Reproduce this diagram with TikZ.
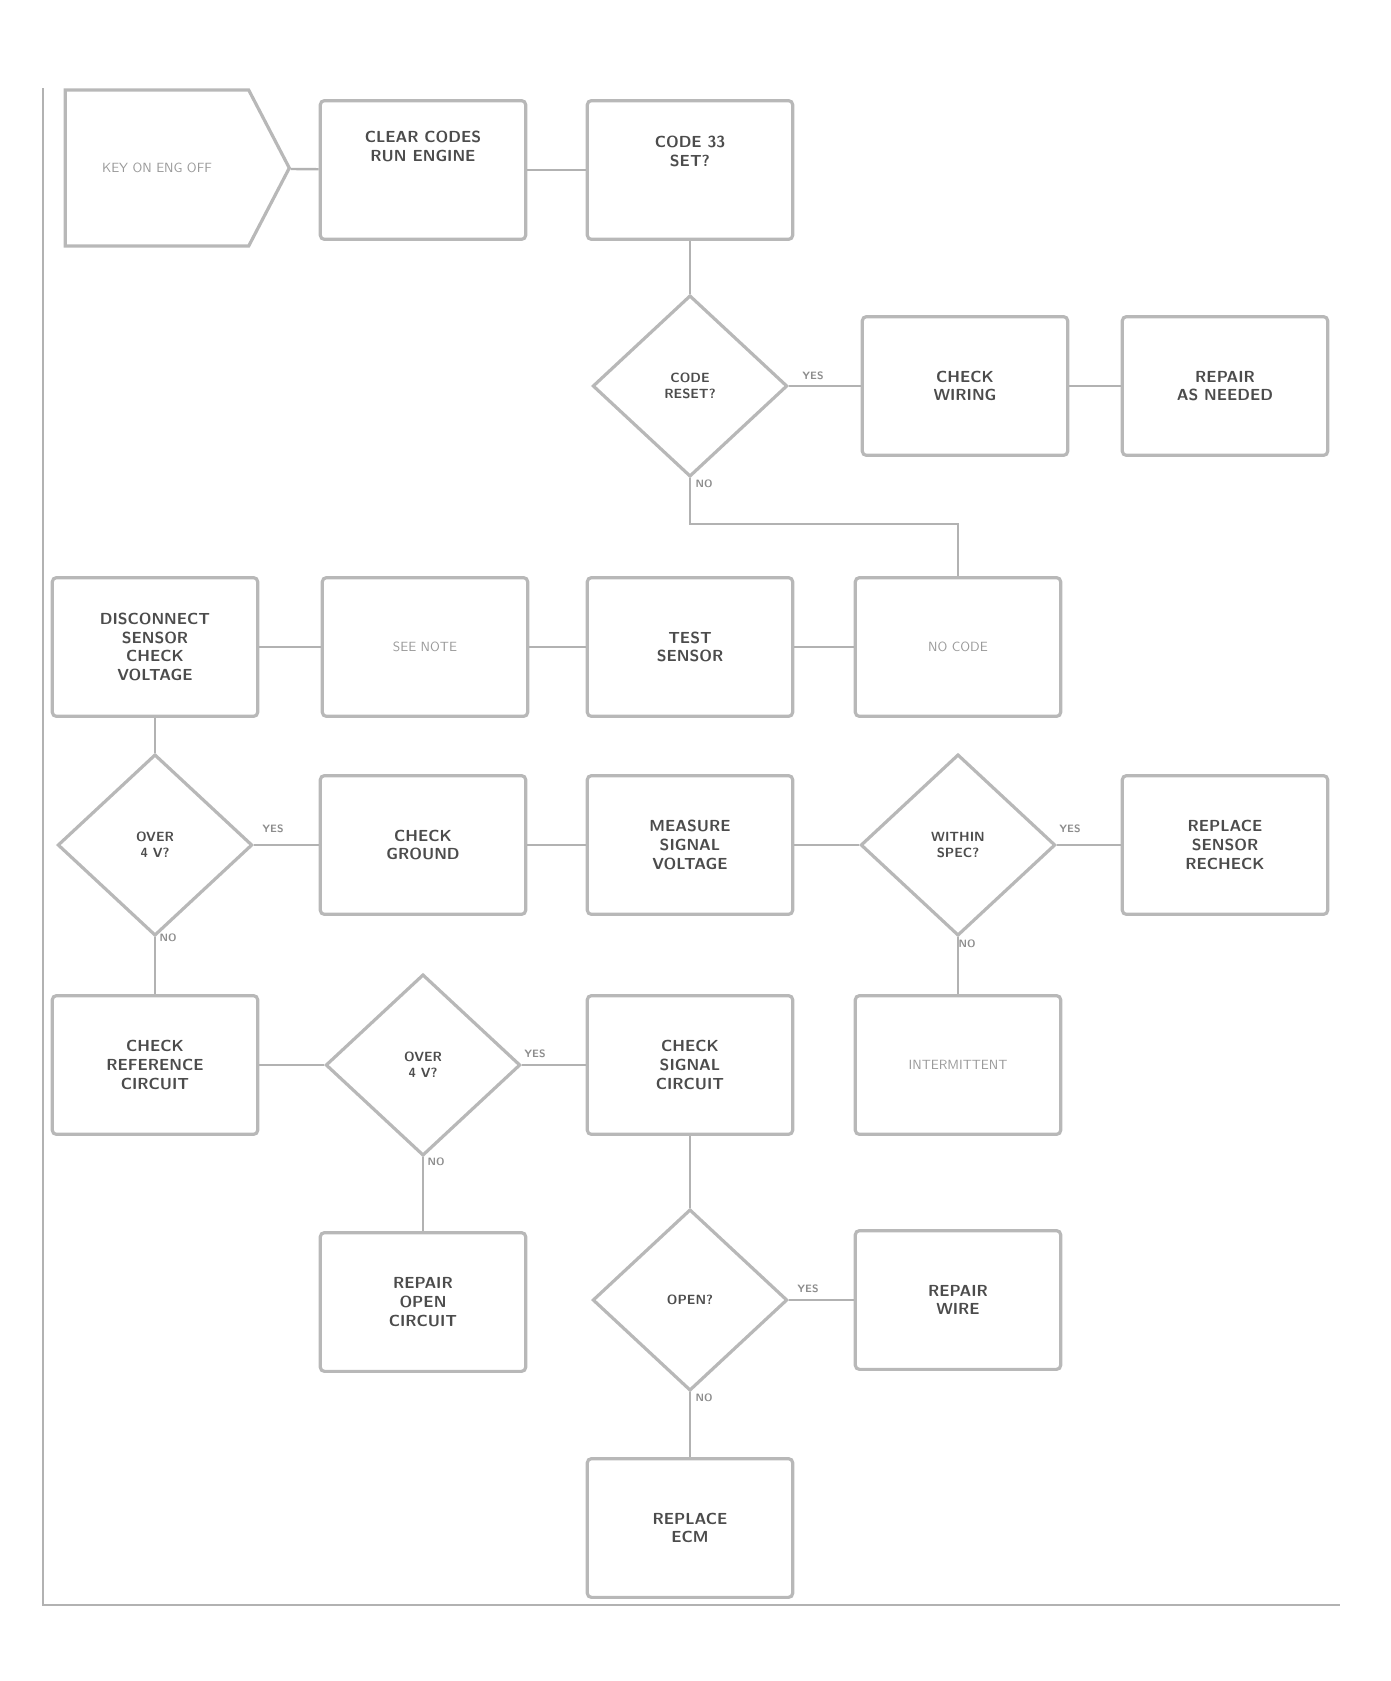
\documentclass[tikz,border=0pt]{standalone}
\usetikzlibrary{shapes.geometric,shapes.symbols}

\begin{document}
\begin{tikzpicture}[x=0.75pt,y=0.75pt,yscale=-1,xscale=1,
    stepbox/.style={draw=black!28,line width=2.4pt,rounded corners=3pt,minimum width=154pt,minimum height=104pt,
      align=center,text=black!70,font=\large\sffamily\bfseries},
    lightbox/.style={stepbox,text=black!40,font=\normalsize\sffamily},
    query/.style={diamond,draw=black!28,line width=2.4pt,minimum width=146pt,minimum height=136pt,inner sep=0pt,
      align=center,text=black!70,font=\normalsize\sffamily\bfseries},
    link/.style={draw=black!30,line width=1.8pt},
    answer/.style={text=black!45,font=\footnotesize\sffamily\bfseries,inner sep=0.75pt}]
\useasboundingbox (0,0) rectangle (1390,1681);

%Frame
\coordinate (ftop) at (43,88);
\coordinate (fcorner) at (43,1605);
\coordinate (fend) at (1340,1605);
\draw [link] (ftop) -- (fcorner) -- (fend);

%Row 1
\node [signal,signal to=east,signal pointer angle=125,draw=black!28,line width=2.4pt,minimum width=168pt,minimum height=117pt,
  text=black!40,font=\normalsize\sffamily] (start) at (157,168) {KEY ON ENG OFF};
\node [stepbox] (clear) at (423,170) {CLEAR CODES\\RUN ENGINE\\[22pt]};
\node [stepbox] (code) at (690,170) {CODE 33\\SET?\\[14pt]};

%Row 2
\node [query] (reset) at (690,386) {CODE\\RESET?};
\node [stepbox] (wiring) at (965,386) {CHECK\\WIRING};
\node [stepbox] (repair) at (1225,386) {REPAIR\\AS NEEDED};

%Row 3
\node [stepbox] (volts) at (155,647) {DISCONNECT\\SENSOR\\CHECK\\VOLTAGE};
\node [lightbox] (note) at (425,647) {SEE NOTE};
\node [stepbox] (sensor) at (690,647) {TEST\\SENSOR};
\node [lightbox] (nocode) at (958,647) {NO CODE};

%Row 4
\node [query] (over1) at (155,845) {OVER\\4 V?};
\node [stepbox] (ground) at (423,845) {CHECK\\GROUND};
\node [stepbox] (signal) at (690,845) {MEASURE\\SIGNAL\\VOLTAGE};
\node [query] (spec) at (958,845) {WITHIN\\SPEC?};
\node [stepbox] (replace) at (1225,845) {REPLACE\\SENSOR\\RECHECK};

%Row 5
\node [stepbox] (ref) at (155,1065) {CHECK\\REFERENCE\\CIRCUIT};
\node [query] (over2) at (423,1065) {OVER\\4 V?};
\node [stepbox] (circuit) at (690,1065) {CHECK\\SIGNAL\\CIRCUIT};
\node [lightbox] (inter) at (958,1065) {INTERMITTENT};

%Row 6
\node [stepbox] (open) at (423,1302) {REPAIR\\OPEN\\CIRCUIT};
\node [query] (isopen) at (690,1300) {OPEN?};
\node [stepbox] (wire) at (958,1300) {REPAIR\\WIRE};

%Row 7
\node [stepbox] (ecm) at (690,1528) {REPLACE\\ECM};

%Connectors
\draw [link] (start) -- (clear);
\draw [link] (clear) -- (code);
\draw [link] (code) -- (reset);
\draw [link] (reset) -- (wiring);
\draw [link] (wiring) -- (repair);
\coordinate (bend1) at (690,524);
\coordinate (bend2) at (958,524);
\draw [link] (reset) -- (bend1) -- (bend2) -- (nocode);
\draw [link] (nocode) -- (sensor);
\draw [link] (sensor) -- (note);
\draw [link] (note) -- (volts);
\draw [link] (volts) -- (over1);
\draw [link] (over1) -- (ground);
\draw [link] (ground) -- (signal);
\draw [link] (signal) -- (spec);
\draw [link] (spec) -- (replace);
\draw [link] (spec) -- (inter);
\draw [link] (over1) -- (ref);
\draw [link] (ref) -- (over2);
\draw [link] (over2) -- (circuit);
\draw [link] (over2) -- (open);
\draw [link] (circuit) -- (isopen);
\draw [link] (isopen) -- (wire);
\draw [link] (isopen) -- (ecm);

% Text Node
\node [answer] (y1) at (813,376) {YES};
\node [answer] (n1) at (704,484) {NO};
\node [answer] (y2) at (273,829) {YES};
\node [answer] (n2) at (168,938) {NO};
\node [answer] (y3) at (1070,829) {YES};
\node [answer] (n3) at (967,944) {NO};
\node [answer] (y4) at (535,1054) {YES};
\node [answer] (n4) at (436,1162) {NO};
\node [answer] (y5) at (808,1289) {YES};
\node [answer] (n5) at (704,1398) {NO};

\end{tikzpicture}
\end{document}
